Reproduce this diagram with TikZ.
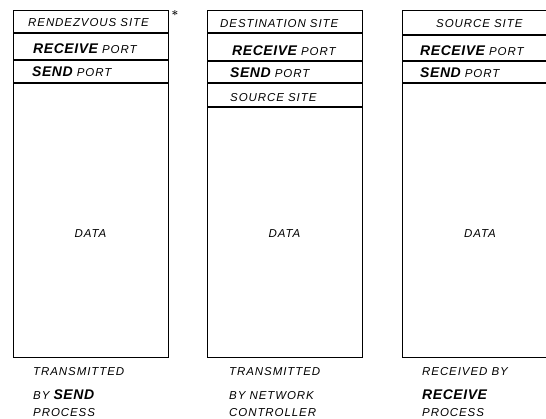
\documentclass[tikz,border=0pt]{standalone}
\usepackage{fontspec}
\newfontfamily\lettering[LetterSpace=8]{Liberation Sans}
\newfontfamily\heavylettering[LetterSpace=4]{Liberation Sans}
\newcommand\heavyword[1]{{\heavylettering\bfseries\itshape\fontsize{14}{14}\selectfont #1}}
\begin{document}
\begin{tikzpicture}[x=1pt,y=-1pt,
  frame/.style={line width=1pt},
  rule/.style={line width=1.1pt},
  label/.style={font=\lettering\itshape\fontsize{11.5}{12}\selectfont, anchor=base west, inner sep=0pt},
  caption/.style={font=\lettering\itshape\fontsize{11.5}{12}\selectfont, anchor=base west, inner sep=0pt}]
\useasboundingbox (0,0) rectangle (546,418);
\clip (0,0) rectangle (546,418);

% message as stored at the rendezvous site
\draw[frame] (13,10) rectangle (168,357);
\draw[rule] (13,33) -- (168,33);
\draw[rule] (13,60) -- (168,60);
\draw[rule] (13,83) -- (168,83);
\node[label] (a1) at (28,26) {RENDEZVOUS SITE};
\node[label] (a2) at (33,53) {\heavyword{RECEIVE} PORT};
\node[label] (a3) at (32,76) {\heavyword{SEND} PORT};
\node[label] (ad) at (90.5,237) [anchor=base] {DATA};
\node[inner sep=0pt, font=\bfseries\fontsize{12}{12}\selectfont] (star) at (175,15) {*};

% message on the network
\draw[frame] (207,10) rectangle (362,357);
\draw[rule] (207,33) -- (362,33);
\draw[rule] (207,61) -- (362,61);
\draw[rule] (207,83) -- (362,83);
\draw[rule] (207,107) -- (362,107);
\node[label] (b1) at (220,27) {DESTINATION SITE};
\node[label] (b2) at (232,55) {\heavyword{RECEIVE} PORT};
\node[label] (b3) at (230,77) {\heavyword{SEND} PORT};
\node[label] (b4) at (230,101) {SOURCE SITE};
\node[label] (bd) at (284.5,237) [anchor=base] {DATA};

% message as received
\draw[frame] (560,10) -- (402,10) -- (402,357) -- (560,357);
\draw[rule] (402,35) -- (560,35);
\draw[rule] (402,61) -- (560,61);
\draw[rule] (402,83) -- (560,83);
\node[label] (c1) at (436,27) {SOURCE SITE};
\node[label] (c2) at (420,55) {\heavyword{RECEIVE} PORT};
\node[label] (c3) at (420,77) {\heavyword{SEND} PORT};
\node[label] (cd) at (480,237) [anchor=base] {DATA};

% captions
\node[caption] (p1) at (33,375) {TRANSMITTED};
\node[caption] (p2) at (33,399) {BY \heavyword{SEND}};
\node[caption] (p3) at (33,416) {PROCESS};
\node[caption] (q1) at (229,375) {TRANSMITTED};
\node[caption] (q2) at (229,399) {BY NETWORK};
\node[caption] (q3) at (229,416) {CONTROLLER};
\node[caption] (r1) at (422,375) {RECEIVED BY};
\node[caption] (r2) at (422,399) {\heavyword{RECEIVE}};
\node[caption] (r3) at (422,416) {PROCESS};
\end{tikzpicture}
\end{document}
